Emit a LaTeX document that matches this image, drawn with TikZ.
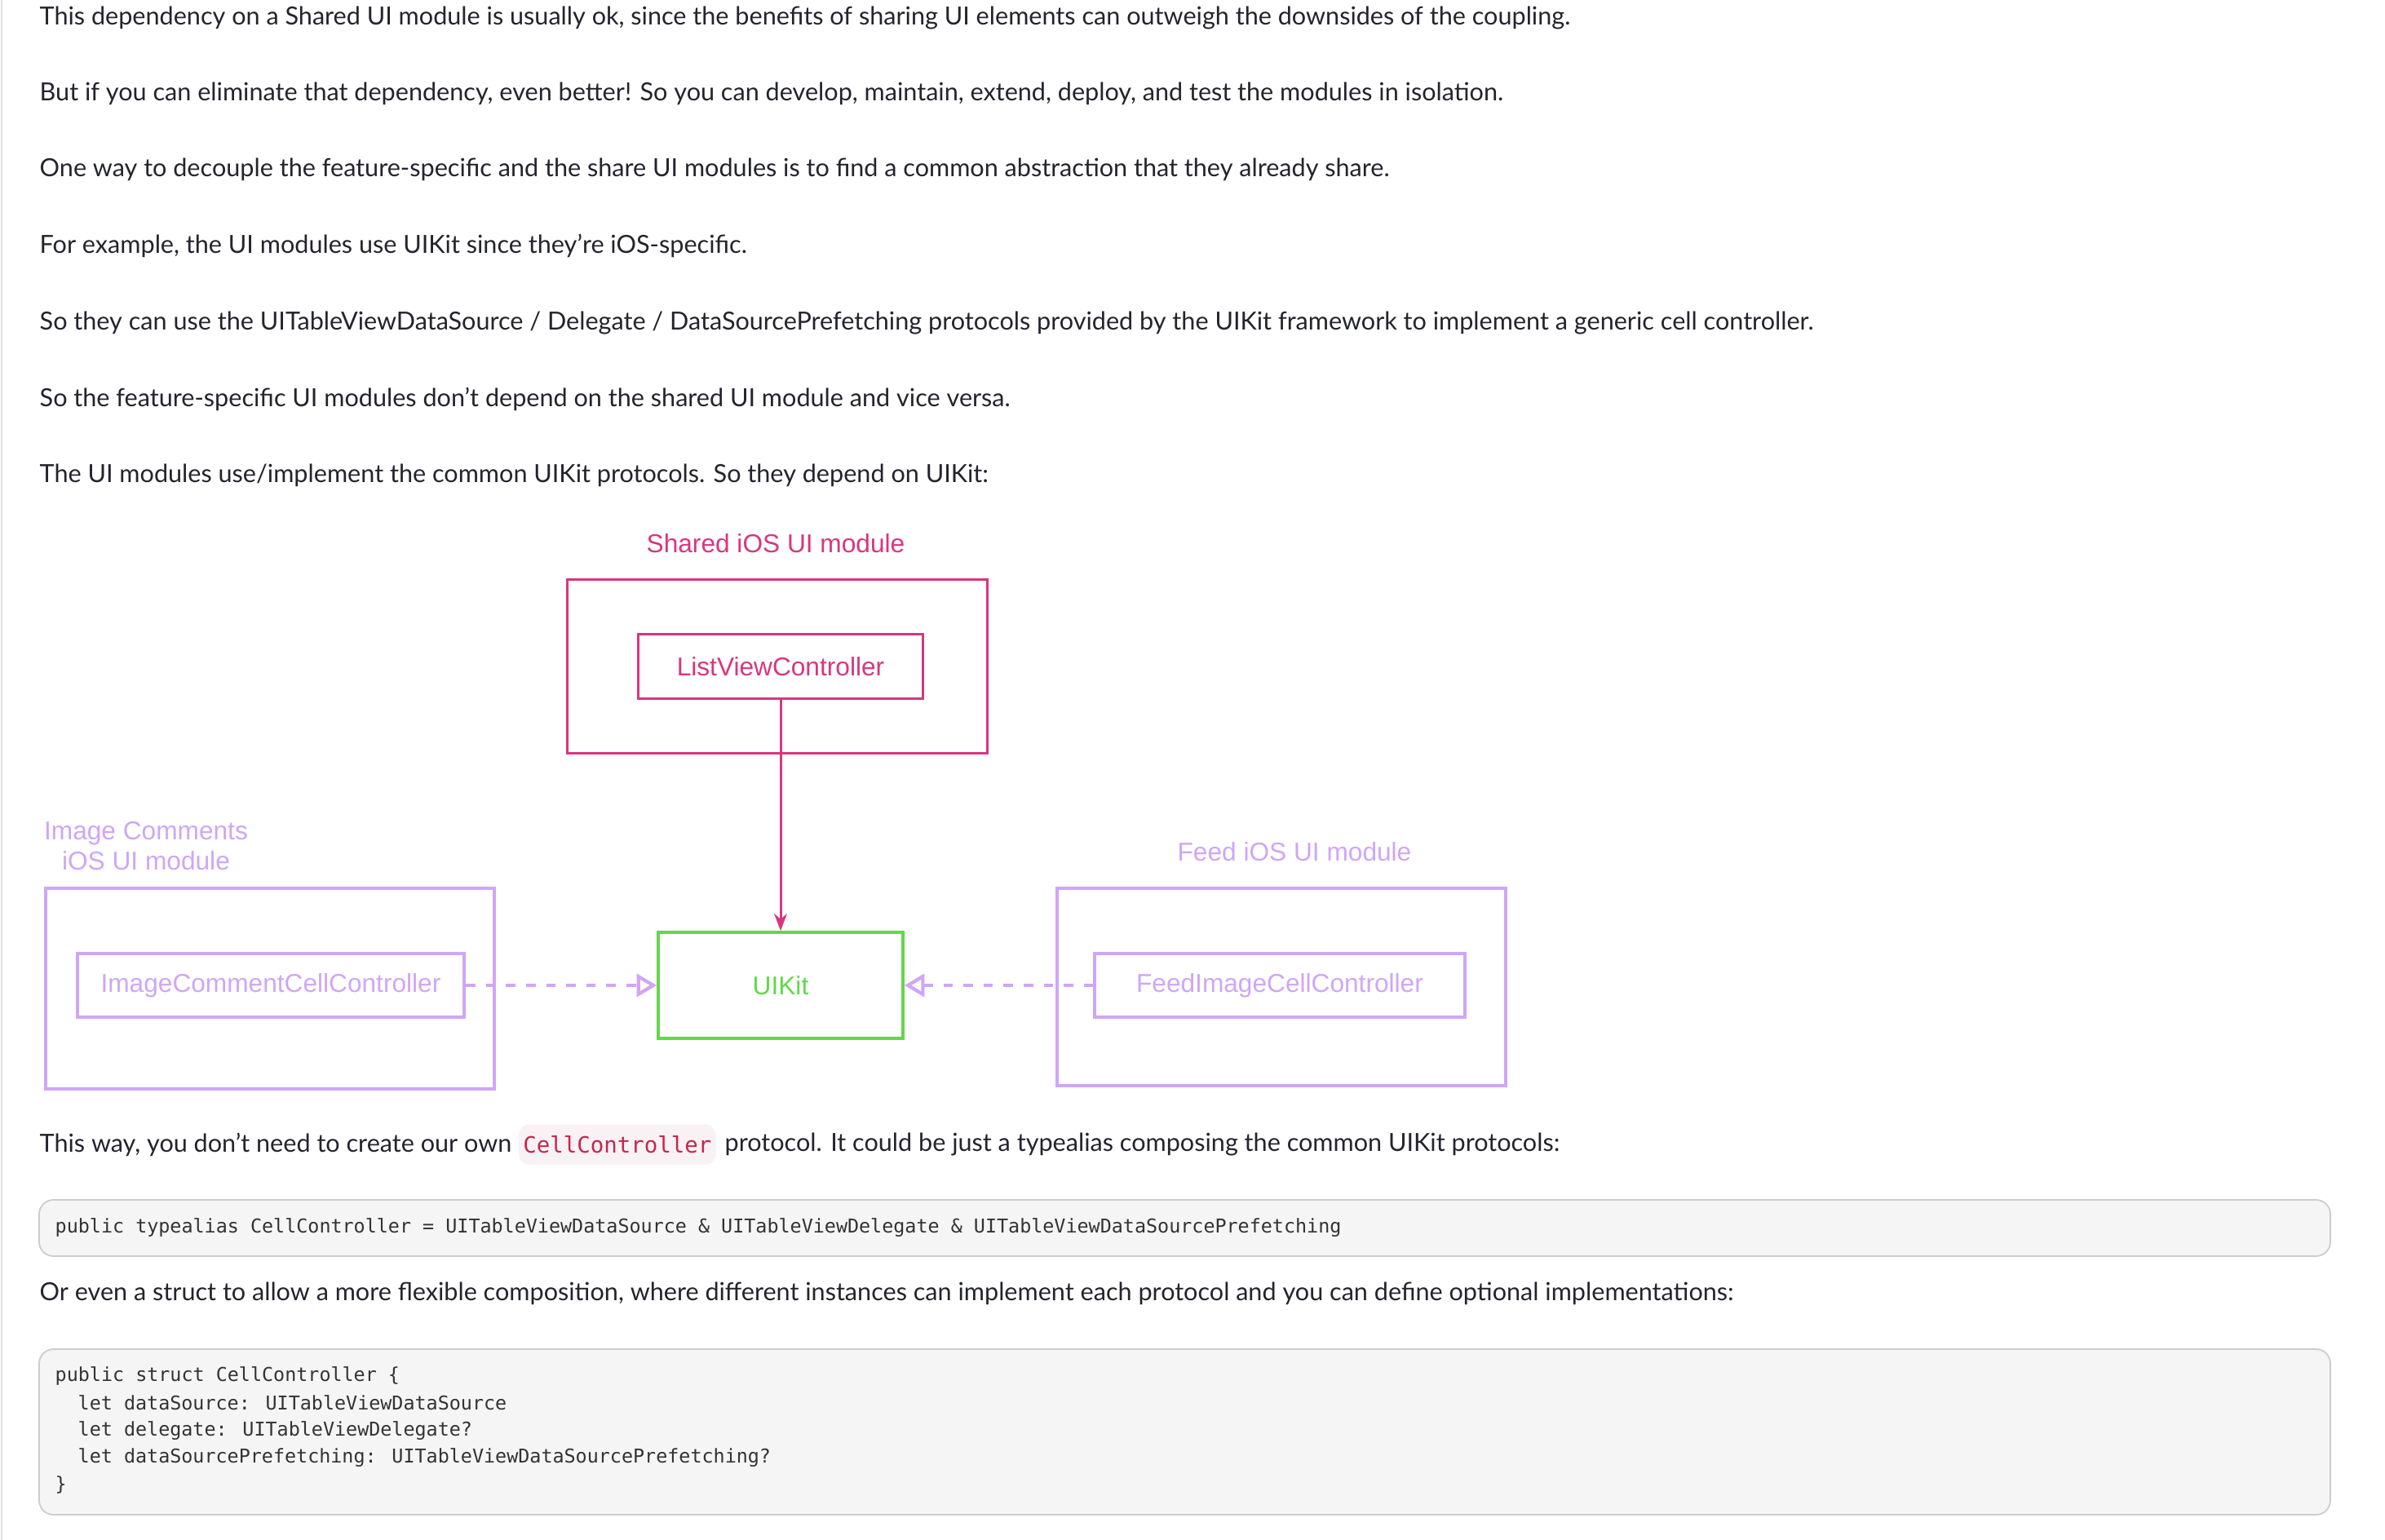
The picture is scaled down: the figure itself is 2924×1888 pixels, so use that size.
\documentclass[tikz,border=0pt]{standalone}
\usepackage{fontspec}
\setmainfont{Lato}
\newfontfamily\diagfont{Liberation Sans}
\newfontfamily\codefont{DejaVu Sans Mono}
\usetikzlibrary{arrows.meta,positioning}

\definecolor{bodytext}{HTML}{24242E}
\definecolor{sharedpink}{HTML}{D9367F}
\definecolor{modlilac}{HTML}{CFA6F7}
\definecolor{kitgreen}{HTML}{62D84A}
\definecolor{codebg}{HTML}{F5F5F5}
\definecolor{codeline}{HTML}{CCCCCC}
\definecolor{codetext}{HTML}{333333}
\definecolor{inlinebg}{HTML}{F9F2F4}
\definecolor{inlinetext}{HTML}{C7254E}

\newcommand{\bodysize}{\fontsize{8.7pt}{10.4pt}\selectfont}
\newcommand{\diagsize}{\diagfont\fontsize{9pt}{10.6pt}\selectfont}
\newcommand{\codesize}{\codefont\fontsize{6.65pt}{8pt}\selectfont}

\begin{document}
\begin{tikzpicture}[x=0.01cm,y=-0.01cm,
  para/.style={anchor=west,inner sep=0pt,text=bodytext,font=\bodysize},
  box/.style={draw,rectangle,inner sep=0pt,font=\diagsize},
  modlabel/.style={inner sep=0pt,font=\diagsize,align=center},
  codeblock/.style={draw=codeline,fill=codebg,rounded corners=5,line width=0.5pt},
  codeln/.style={anchor=west,inner sep=0pt,text=codetext,font=\codesize},
  uses/.style={modlilac,line width=1.2pt,dash pattern=on 3.3pt off 3.7pt,-{Triangle[open,length=7pt,width=8pt]}}]
\useasboundingbox (0,0) rectangle (2924,1888);
\fill[white] (0,0) rectangle (2924,1888);
\draw[black!12,line width=0.4pt] (2,0) -- (2,1888);

% text above the diagram
\node[para] (p1) at (48,22) {This dependency on a Shared UI module is usually ok, since the benefits of sharing UI elements can outweigh the downsides of the coupling.};
\node[para] (p2) at (48,115) {But if you can eliminate that dependency, even better! So you can develop, maintain, extend, deploy, and test the modules in isolation.};
\node[para] (p3) at (48,208) {One way to decouple the feature-specific and the share UI modules is to find a common abstraction that they already share.};
\node[para] (p4) at (48,301) {For example, the UI modules use UIKit since they’re iOS-specific.};
\node[para] (p5) at (48,396) {So they can use the UITableViewDataSource / Delegate / DataSourcePrefetching protocols provided by the UIKit framework to implement a generic cell controller.};
\node[para] (p6) at (48,489) {So the feature-specific UI modules don’t depend on the shared UI module and vice versa.};
\node[para] (p7) at (48,583) {The UI modules use/implement the common UIKit protocols. So they depend on UIKit:};

% shared module
\node[box,draw=sharedpink,line width=0.85pt,minimum width=5.15cm,minimum height=2.12cm] (shared) at (953,817) {};
\node[modlabel,text=sharedpink] (sharedlbl) at (951,666) {Shared iOS UI module};
\node[box,draw=sharedpink,text=sharedpink,line width=0.85pt,minimum width=3.49cm,minimum height=0.78cm] (listvc) at (957,817) {ListViewController};

% UIKit
\node[box,draw=kitgreen,text=kitgreen,line width=1pt,minimum width=3.0cm,minimum height=1.3cm] (uikit) at (957,1208) {UIKit};

% feature modules
\node[box,draw=modlilac,line width=1.1pt,minimum width=5.5cm,minimum height=2.46cm] (comments) at (331,1212) {};
\node[modlabel,text=modlilac] (commentslbl) at (179,1037) {Image Comments\\iOS UI module};
\node[box,draw=modlilac,text=modlilac,line width=1.1pt,minimum width=4.74cm,minimum height=0.78cm] (commentcell) at (332,1208) {ImageCommentCellController};

\node[box,draw=modlilac,line width=1.1pt,minimum width=5.5cm,minimum height=2.42cm] (feed) at (1571,1210) {};
\node[modlabel,text=modlilac] (feedlbl) at (1587,1044) {Feed iOS UI module};
\node[box,draw=modlilac,text=modlilac,line width=1.1pt,minimum width=4.53cm,minimum height=0.78cm] (feedcell) at (1569,1208) {FeedImageCellController};

% dependencies
\draw[sharedpink,line width=0.85pt,-{Stealth[length=6pt,width=4.5pt]}] (listvc) -- (uikit);
\draw[uses] (commentcell) -- (uikit);
\draw[uses] (feedcell) -- (uikit);

% text below the diagram
\node[para] (p8) at (48,1403) {This way, you don’t need to create our own};
\node[anchor=west,inner xsep=1.6pt,inner ysep=4pt,rounded corners=4,fill=inlinebg,text=inlinetext,font=\codefont\fontsize{7.8pt}{9pt}\selectfont,right=2pt of p8] (inl) {CellController};
\node[para,right=2.6pt of inl] (p8b) {protocol. It could be just a typealias composing the common UIKit protocols:};

\draw[codeblock] (48,1471) rectangle (2857,1540);
\node[codeln] (c1) at (67,1505) {public typealias CellController = UITableViewDataSource \& UITableViewDelegate \& UITableViewDataSourcePrefetching};

\node[para] (p9) at (48,1586) {Or even a struct to allow a more flexible composition, where different instances can implement each protocol and you can define optional implementations:};

\draw[codeblock] (48,1654) rectangle (2857,1857);
\node[codeln] (s1) at (67,1687) {public struct CellController \{};
\node[codeln] (s2) at (95,1720) {let dataSource: UITableViewDataSource};
\node[codeln] (s3) at (95,1754) {let delegate: UITableViewDelegate?};
\node[codeln] (s4) at (95,1787) {let dataSourcePrefetching: UITableViewDataSourcePrefetching?};
\node[codeln] (s5) at (67,1821) {\}};
\end{tikzpicture}
\end{document}
